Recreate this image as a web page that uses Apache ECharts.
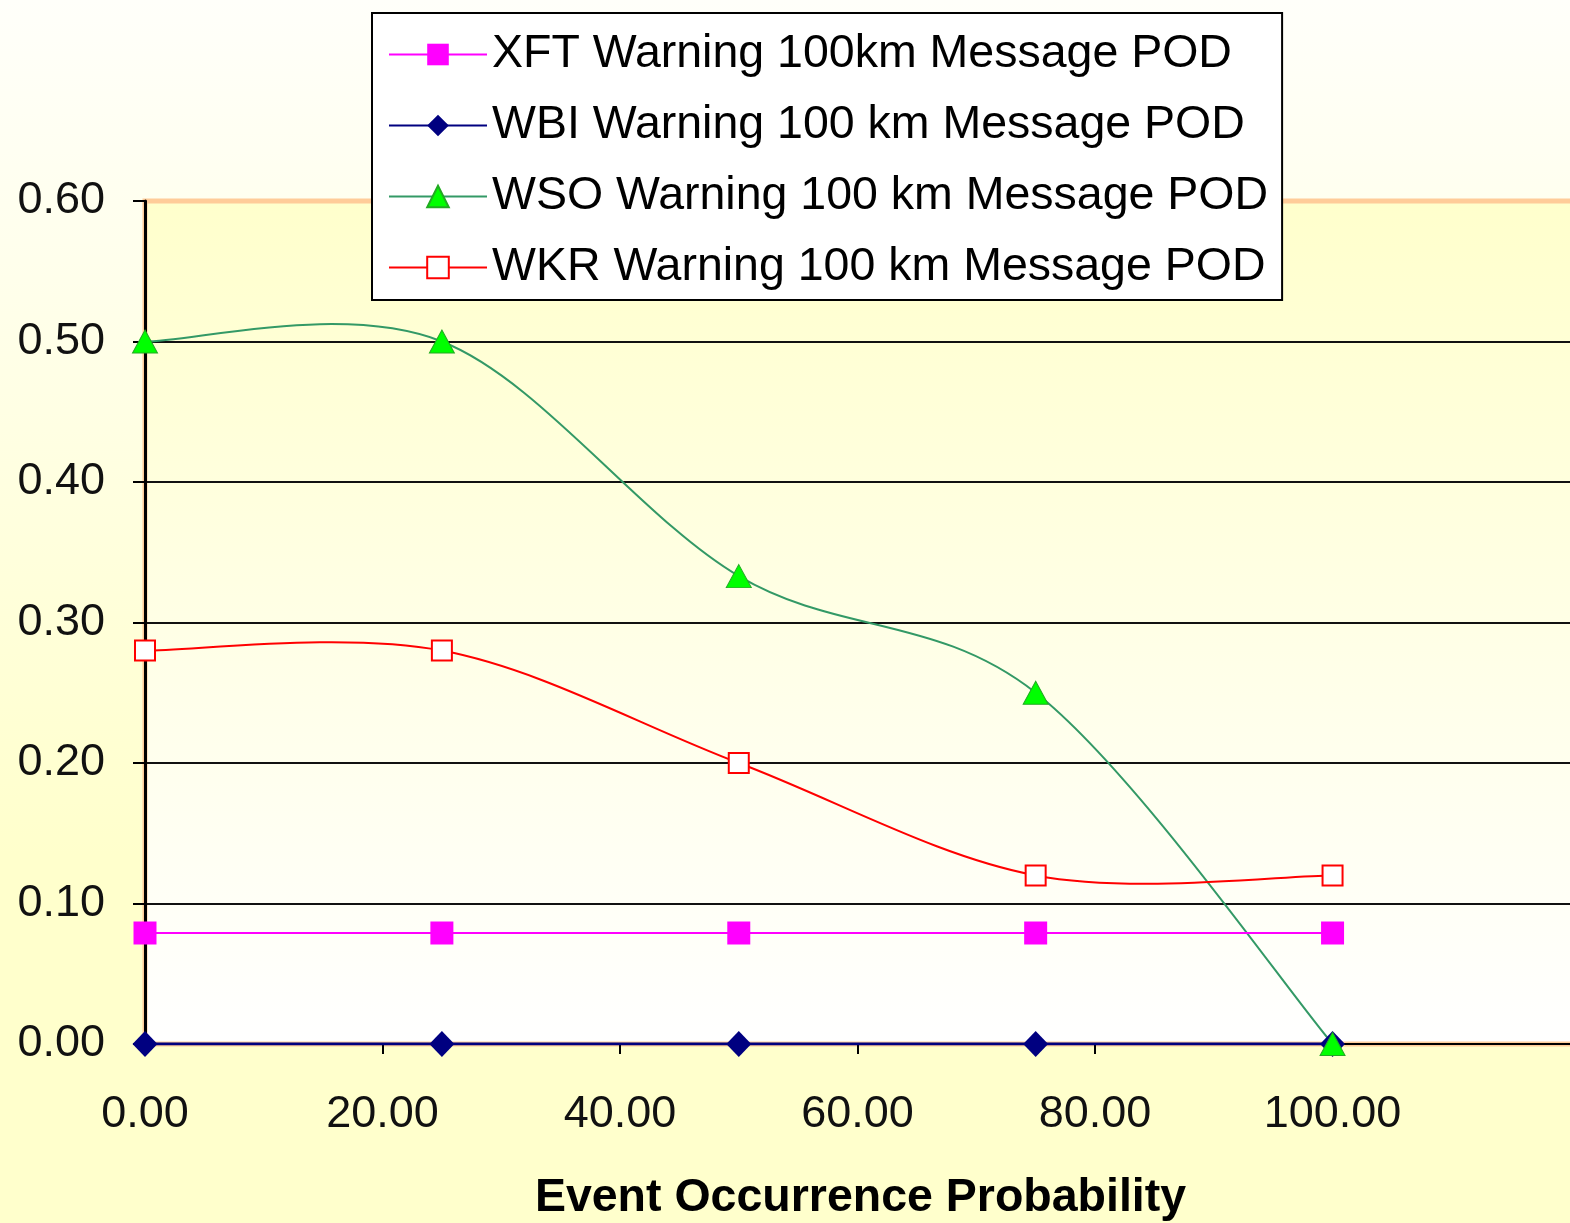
<!DOCTYPE html>
<html>
<head>
<meta charset="utf-8">
<script src="https://cdn.jsdelivr.net/npm/echarts@6/dist/echarts.min.js"></script>
<style>
html,body{margin:0;padding:0;}
#chart{width:1570px;height:1223px;}
</style>
</head>
<body>
<div id="chart"></div>
<script>
// ---- data ----
const xValues = [0, 25, 50, 75, 100];
const xftPOD = [0.079, 0.079, 0.079, 0.079, 0.079];
const wbiPOD = [0, 0, 0, 0, 0];
const wsoPOD = [0.5, 0.5, 0.333, 0.25, 0];
const wkrPOD = [0.28, 0.28, 0.2, 0.12, 0.12];
const seriesNames = [
  'XFT Warning 100km Message POD',
  'WBI Warning 100 km Message POD',
  'WSO Warning 100 km Message POD',
  'WKR Warning 100 km Message POD'
];
const xTickLabels = [0, 20, 40, 60, 80, 100];
const xAxisTitle = 'Event Occurrence Probability';

const FONT = "'Liberation Sans', Arial, sans-serif";
const pairs = arr => xValues.map((x, i) => [x, arr[i]]);

// Excel-style (Catmull-Rom) smoothed segment through the data points
function smoothRenderer(values, color, width) {
  return function (params, api) {
    const n = xValues.length;
    const i = params.dataIndex;
    if (i >= n - 1) return null;
    const P = k => {
      const j = Math.max(0, Math.min(n - 1, k));
      return api.coord([xValues[j], values[j]]);
    };
    const p0 = P(i - 1), p1 = P(i), p2 = P(i + 1), p3 = P(i + 2);
    const t = 1 / 6;
    return {
      type: 'bezierCurve',
      shape: {
        x1: p1[0], y1: p1[1], x2: p2[0], y2: p2[1],
        cpx1: p1[0] + (p2[0] - p0[0]) * t, cpy1: p1[1] + (p2[1] - p0[1]) * t,
        cpx2: p2[0] - (p3[0] - p1[0]) * t, cpy2: p2[1] - (p3[1] - p1[1]) * t
      },
      style: { stroke: color, lineWidth: width, fill: null }
    };
  };
}

const chart = echarts.init(document.getElementById('chart'));
chart.setOption({
  animation: false,
  backgroundColor: {
    type: 'linear', x: 0, y: 0, x2: 0, y2: 1,
    colorStops: [
      { offset: 0, color: '#FFFFFA' },
      { offset: 0.7, color: '#FFFFCC' },
      { offset: 1, color: '#FFFFCC' }
    ]
  },
  grid: {
    left: 145, top: 201, right: -6, bottom: 179,
    outerBoundsMode: 'none',
    containLabel: false,
    show: true,
    borderColor: '#FFCC99',
    borderWidth: 5,
    backgroundColor: {
      type: 'linear', x: 0, y: 0, x2: 0, y2: 1,
      colorStops: [
        { offset: 0, color: '#FFFFCC' },
        { offset: 1, color: '#FFFFFF' }
      ]
    }
  },
  legend: {
    orient: 'vertical',
    left: 372, top: 13,
    backgroundColor: '#FFFFFF',
    borderColor: '#000000',
    borderWidth: 2,
    padding: [18, 14, 9, 16],
    itemWidth: 98,
    itemHeight: 27,
    itemGap: 24,
    textStyle: { fontFamily: FONT, fontSize: 46.5, color: '#000', lineHeight: 46 },
    data: [
      { name: seriesNames[0] },
      { name: seriesNames[1] },
      { name: seriesNames[2], lineStyle: { color: '#339966', width: 2 } },
      { name: seriesNames[3], lineStyle: { color: '#FF0000', width: 2 } }
    ]
  },
  xAxis: {
    type: 'value',
    min: 0, max: 120.5,
    name: xAxisTitle,
    nameLocation: 'middle',
    nameGap: 131,
    nameTextStyle: { fontFamily: FONT, fontSize: 46.5, fontWeight: 'bold', color: '#000' },
    axisLine: { show: true, onZero: false, lineStyle: { color: '#000', width: 2 } },
    axisTick: { show: true, length: 10, customValues: xTickLabels, lineStyle: { color: '#000', width: 2 } },
    axisLabel: {
      margin: 48,
      customValues: xTickLabels,
      fontFamily: FONT, fontSize: 45, color: '#111',
      formatter: v => v.toFixed(2)
    },
    splitLine: { show: false }
  },
  yAxis: {
    type: 'value',
    min: 0, max: 0.6, interval: 0.1,
    axisLine: { show: true, lineStyle: { color: '#000', width: 3 } },
    axisTick: { show: true, length: 12, lineStyle: { color: '#000', width: 2 } },
    axisLabel: {
      margin: 40,
      padding: [4, 0, 0, 0],
      fontFamily: FONT, fontSize: 45, color: '#111',
      formatter: v => v.toFixed(2)
    },
    splitLine: { show: true, showMinLine: false, showMaxLine: false, lineStyle: { color: '#111', width: 2 } }
  },
  series: [
    {
      type: 'custom', name: 'wsoCurve', silent: true,
      data: pairs(wsoPOD),
      renderItem: smoothRenderer(wsoPOD, '#339966', 2)
    },
    {
      type: 'custom', name: 'wkrCurve', silent: true,
      data: pairs(wkrPOD),
      renderItem: smoothRenderer(wkrPOD, '#FF0000', 2)
    },
    {
      name: seriesNames[0], type: 'line', data: pairs(xftPOD),
      symbol: 'rect', symbolSize: 23,
      lineStyle: { color: '#FF00FF', width: 2 },
      itemStyle: { color: '#FF00FF' }
    },
    {
      name: seriesNames[1], type: 'line', data: pairs(wbiPOD),
      symbol: 'diamond', symbolSize: [25, 26],
      lineStyle: { color: '#000080', width: 3 },
      itemStyle: { color: '#000080' }
    },
    {
      name: seriesNames[2], type: 'line', data: pairs(wsoPOD),
      symbol: 'triangle', symbolSize: [25, 23],
      lineStyle: { color: 'transparent', width: 2 },
      itemStyle: { color: '#00FF00', borderColor: '#22AA22', borderWidth: 1 }
    },
    {
      name: seriesNames[3], type: 'line', data: pairs(wkrPOD),
      symbol: 'rect', symbolSize: 20,
      lineStyle: { color: 'transparent', width: 2 },
      itemStyle: { color: '#FFFFFF', borderColor: '#FF0000', borderWidth: 2 }
    }
  ]
});
</script>
</body>
</html>
